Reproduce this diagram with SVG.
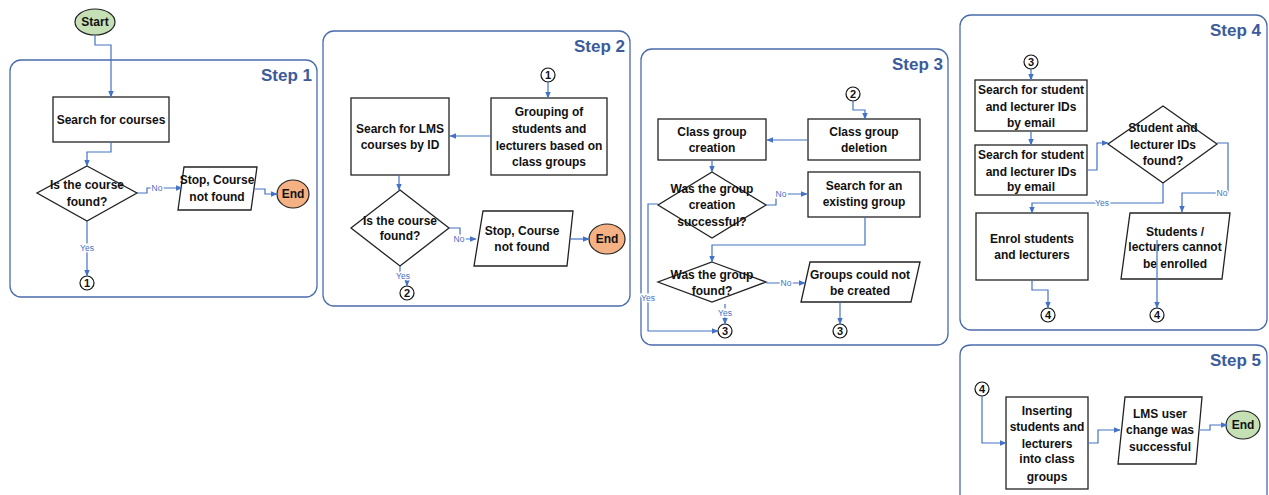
<svg xmlns="http://www.w3.org/2000/svg" width="1269" height="495" viewBox="0 0 1269 495">
<defs>
<marker id="ah" viewBox="0 0 10 10" refX="9" refY="5" markerWidth="7" markerHeight="7" markerUnits="userSpaceOnUse" orient="auto">
<path d="M0,1 L10,5 L0,9 z" fill="#4472c4"/>
</marker>
</defs>
<style>
.panel{fill:none;stroke:#4a6bab;stroke-width:1.3}
.step{font-family:"Liberation Sans",Arial,sans-serif;font-weight:bold;font-size:17px;fill:#3b5b9b;text-anchor:end}
.box{fill:#fff;stroke:#222;stroke-width:1.3}
.t{font-family:"Liberation Sans",Arial,sans-serif;font-weight:bold;font-size:12px;fill:#111;text-anchor:middle}
.ca{fill:none;stroke:#4472c4;stroke-width:1.2;marker-end:url(#ah)}
.lbl{font-family:"Liberation Sans",Arial,sans-serif;font-size:8.5px;fill:#4472c4;text-anchor:middle;paint-order:stroke;stroke:#fff;stroke-width:3px}
.circ{fill:#fff;stroke:#111;stroke-width:1.2}
.num{font-family:"Liberation Sans",Arial,sans-serif;font-weight:bold;font-size:11px;fill:#111;text-anchor:middle}
.green{fill:#c5e0b4;stroke:#222;stroke-width:1.2}
.orange{fill:#f4b183;stroke:#222;stroke-width:1.2}
</style>

<!-- Panels -->
<g id="panels">
<rect class="panel" x="10" y="60" width="307" height="237" rx="11"/>
<text class="step" x="312" y="81">Step 1</text>
<rect class="panel" x="323" y="31" width="307" height="275" rx="11"/>
<text class="step" x="625" y="52">Step 2</text>
<rect class="panel" x="641" y="49" width="307" height="296" rx="11"/>
<text class="step" x="943" y="70">Step 3</text>
<rect class="panel" x="960" y="15" width="307" height="315" rx="11"/>
<text class="step" x="1261" y="36">Step 4</text>
<path class="panel" d="M960,500 L960,356 Q960,345 971,345 L1256,345 Q1267,345 1267,356 L1267,500"/>
<text class="step" x="1261" y="366">Step 5</text>
</g>

<!-- Step 1 nodes -->
<g id="start"><ellipse class="green" cx="95" cy="22" rx="20" ry="13"/><text class="t" x="95" y="26">Start</text></g>
<g id="s1-search"><rect class="box" x="53" y="97" width="116" height="45"/><text class="t" x="111" y="124">Search for courses</text></g>
<g id="s1-found"><polygon class="box" points="87,166 137,193 87,221 37,193"/><text class="t" x="87" y="189">Is the course</text><text class="t" x="87" y="206">found?</text></g>
<g id="s1-stop"><polygon class="box" points="184,167 257,167 251,210 178,210"/><text class="t" x="217" y="184">Stop, Course</text><text class="t" x="217" y="201">not found</text></g>
<g id="s1-end"><ellipse class="orange" cx="293" cy="194" rx="16" ry="14"/><text class="t" x="293" y="198">End</text></g>
<g id="s1-c1"><circle class="circ" cx="87" cy="283" r="7"/><text class="num" x="87" y="287">1</text></g>

<!-- Step 2 nodes -->
<g id="s2-c1"><circle class="circ" cx="548" cy="75" r="7"/><text class="num" x="548" y="79">1</text></g>
<g id="s2-group"><rect class="box" x="491" y="98" width="116" height="77"/><text class="t" x="549" y="116">Grouping of</text><text class="t" x="549" y="133">students and</text><text class="t" x="549" y="150">lecturers based on</text><text class="t" x="549" y="166">class groups</text></g>
<g id="s2-search"><rect class="box" x="351" y="98" width="98" height="77"/><text class="t" x="400" y="133">Search for LMS</text><text class="t" x="400" y="149">courses by ID</text></g>
<g id="s2-found"><polygon class="box" points="400,190 449,228 400,266 351,228"/><text class="t" x="400" y="225">Is the course</text><text class="t" x="400" y="240">found?</text></g>
<g id="s2-stop"><polygon class="box" points="483,211 573,211 567,266 474,266"/><text class="t" x="522" y="235">Stop, Course</text><text class="t" x="522" y="251">not found</text></g>
<g id="s2-end"><ellipse class="orange" cx="607" cy="239" rx="18" ry="15"/><text class="t" x="607" y="243">End</text></g>
<g id="s2-c2"><circle class="circ" cx="407" cy="293" r="7"/><text class="num" x="407" y="297">2</text></g>

<!-- Step 3 nodes -->
<g id="s3-c2"><circle class="circ" cx="853" cy="94" r="7"/><text class="num" x="853" y="98">2</text></g>
<g id="s3-delete"><rect class="box" x="808" y="119" width="112" height="41"/><text class="t" x="864" y="136">Class group</text><text class="t" x="864" y="152">deletion</text></g>
<g id="s3-create"><rect class="box" x="658" y="119" width="108" height="41"/><text class="t" x="712" y="136">Class group</text><text class="t" x="712" y="152">creation</text></g>
<g id="s3-success"><polygon class="box" points="712,172 766,205 712,238 658,205"/><text class="t" x="712" y="193">Was the group</text><text class="t" x="712" y="209">creation</text><text class="t" x="712" y="226">successful?</text></g>
<g id="s3-existing"><rect class="box" x="808" y="172" width="112" height="45"/><text class="t" x="864" y="190">Search for an</text><text class="t" x="864" y="206">existing group</text></g>
<g id="s3-found"><polygon class="box" points="712,262 766,282 712,302 658,282"/><text class="t" x="712" y="279">Was the group</text><text class="t" x="712" y="295">found?</text></g>
<g id="s3-fail"><polygon class="box" points="810,262 920,262 911,302 801,302"/><text class="t" x="860" y="279">Groups could not</text><text class="t" x="860" y="295">be created</text></g>
<g id="s3-c3a"><circle class="circ" cx="725" cy="331" r="7"/><text class="num" x="725" y="335">3</text></g>
<g id="s3-c3b"><circle class="circ" cx="840" cy="331" r="7"/><text class="num" x="840" y="335">3</text></g>

<!-- Step 4 nodes -->
<g id="s4-c3"><circle class="circ" cx="1031" cy="62" r="7"/><text class="num" x="1031" y="66">3</text></g>
<g id="s4-search1"><rect class="box" x="975" y="80" width="112" height="51"/><text class="t" x="1031" y="94">Search for student</text><text class="t" x="1031" y="111">and lecturer IDs</text><text class="t" x="1031" y="127">by email</text></g>
<g id="s4-search2"><rect class="box" x="975" y="145" width="112" height="50"/><text class="t" x="1031" y="159">Search for student</text><text class="t" x="1031" y="176">and lecturer IDs</text><text class="t" x="1031" y="191">by email</text></g>
<g id="s4-found"><polygon class="box" points="1163,106 1217,144 1163,183 1108,144"/><text class="t" x="1163" y="132">Student and</text><text class="t" x="1163" y="149">lecturer IDs</text><text class="t" x="1163" y="165">found?</text></g>
<g id="s4-enrol"><rect class="box" x="976" y="213" width="112" height="67"/><text class="t" x="1032" y="243">Enrol students</text><text class="t" x="1032" y="259">and lecturers</text></g>
<g id="s4-fail"><polygon class="box" points="1130,213 1230,213 1222,279 1121,279"/><text class="t" x="1175" y="236">Students /</text><text class="t" x="1175" y="251">lecturers cannot</text><text class="t" x="1175" y="268">be enrolled</text></g>
<g id="s4-c4a"><circle class="circ" cx="1048" cy="315" r="7"/><text class="num" x="1048" y="319">4</text></g>
<g id="s4-c4b"><circle class="circ" cx="1157" cy="315" r="7"/><text class="num" x="1157" y="319">4</text></g>

<!-- Step 5 nodes -->
<g id="s5-c4"><circle class="circ" cx="982" cy="389" r="7"/><text class="num" x="982" y="393">4</text></g>
<g id="s5-insert"><rect class="box" x="1006" y="397" width="82" height="92"/><text class="t" x="1047" y="415">Inserting</text><text class="t" x="1047" y="431">students and</text><text class="t" x="1047" y="448">lecturers</text><text class="t" x="1047" y="463">into class</text><text class="t" x="1047" y="481">groups</text></g>
<g id="s5-success"><polygon class="box" points="1125,397 1202,397 1196,464 1118,464"/><text class="t" x="1160" y="418">LMS user</text><text class="t" x="1160" y="434">change was</text><text class="t" x="1160" y="451">successful</text></g>
<g id="s5-end"><ellipse class="green" cx="1243" cy="425" rx="17" ry="14"/><text class="t" x="1243" y="429">End</text></g>

<!-- Connectors -->
<g id="connectors">
<path class="ca" d="M95,35 V45 H111 V97"/>
<path class="ca" d="M111,142 V152 H87 V166"/>
<path class="ca" d="M137,193 H147 V188 H182"/>
<path class="ca" d="M254,189 H265 V194 H277"/>
<path class="ca" d="M87,221 V276"/>
<path class="ca" d="M548,82 V98"/>
<path class="ca" d="M491,136 H450"/>
<path class="ca" d="M399,175 V190"/>
<path class="ca" d="M449,228 H460 V239 H476"/>
<path class="ca" d="M570,239 H589"/>
<path class="ca" d="M400,266 V279 H407 V286"/>
<path class="ca" d="M853,101 V110 H865 V119"/>
<path class="ca" d="M808,140 H767"/>
<path class="ca" d="M712,160 V172"/>
<path class="ca" d="M766,205 H776 V194 H807"/>
<path class="ca" d="M865,217 V245 H712 V262"/>
<path class="ca" d="M766,283 H805"/>
<path class="ca" d="M840,302 V324"/>
<path class="ca" d="M725,304 V324"/>
<path class="ca" d="M658,204 H648 V331 H718"/>
<path class="ca" d="M1031,69 V80"/>
<path class="ca" d="M1031,131 V145"/>
<path class="ca" d="M1087,170 H1097 V143 H1108"/>
<path class="ca" d="M1163,183 V203 H1032 V213"/>
<path class="ca" d="M1217,143 H1228 V193 H1182 V212"/>
<path class="ca" d="M1032,280 V290 H1048 V308"/>
<path class="ca" d="M1157,240 V308"/>
<path class="ca" d="M982,396 V443 H1006"/>
<path class="ca" d="M1088,443 H1098 V430 H1120"/>
<path class="ca" d="M1199,430 H1210 V425 H1227"/>
<text class="lbl" x="157" y="191">No</text>
<text class="lbl" x="87" y="251">Yes</text>
<text class="lbl" x="459" y="242">No</text>
<text class="lbl" x="403" y="279">Yes</text>
<text class="lbl" x="781" y="197">No</text>
<text class="lbl" x="786" y="286">No</text>
<text class="lbl" x="725" y="316">Yes</text>
<text class="lbl" x="648" y="301">Yes</text>
<text class="lbl" x="1102" y="206">Yes</text>
<text class="lbl" x="1222" y="196">No</text>
</g>
</svg>
